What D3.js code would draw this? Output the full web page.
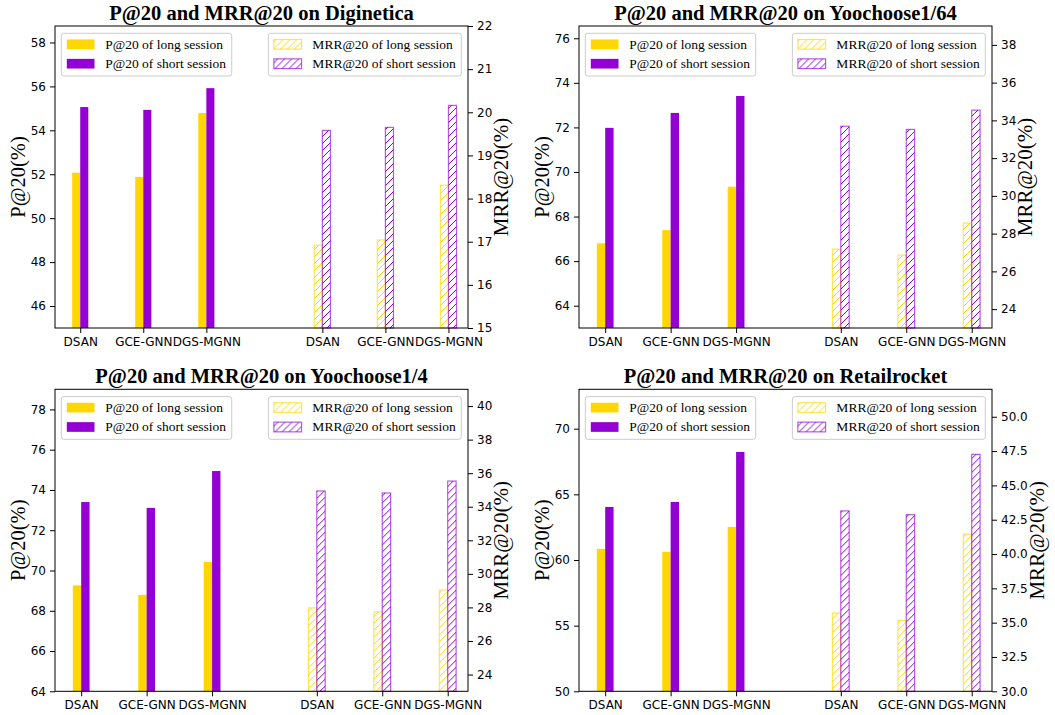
<!DOCTYPE html>
<html>
<head>
<meta charset="utf-8">
<script src="https://cdn.jsdelivr.net/npm/d3@7"></script>
<style>
  body { margin: 0; background: #fff; }
  svg { display: block; }
  .tick text { font-family: "DejaVu Sans", sans-serif; font-size: 12px; fill: #000; }
  .tick line, .domain { stroke: #000; }
</style>
</head>
<body>
<div id="chart"></div>
<script>
// --- data
const methods = ['DSAN', 'GCE-GNN', 'DGS-MGNN'];
const datasets = ['Diginetica', 'Yoochoose1/64', 'Yoochoose1/4', 'Retailrocket'];

const pLong   = [[52.07, 51.88, 54.79], [66.80, 67.39, 69.34], [69.26, 68.79, 70.43], [60.85, 60.62, 62.52]];
const pShort  = [[55.06, 54.93, 55.92], [71.98, 72.65, 73.41], [73.40, 73.11, 74.94], [64.04, 64.42, 68.23]];
const mrrLong  = [[16.92, 17.04, 18.31], [27.18, 26.86, 28.56], [27.97, 27.73, 29.04], [35.70, 35.16, 41.44]];
const mrrShort = [[19.58, 19.65, 20.16], [33.69, 33.52, 34.54], [34.94, 34.82, 35.53], [43.14, 42.87, 47.26]];

const pDomains   = [[45, 58.75], [63, 76.55], [64, 79], [50, 73]];
const mrrDomains = [[15, 22], [23, 39], [23, 41], [30, 52]];
const pTicks   = [[46, 48, 50, 52, 54, 56, 58], [64, 66, 68, 70, 72, 74, 76], [64, 66, 68, 70, 72, 74, 76, 78], [50, 55, 60, 65, 70]];
const mrrTicks = [[15, 16, 17, 18, 19, 20, 21, 22], [24, 26, 28, 30, 32, 34, 36, 38], [24, 26, 28, 30, 32, 34, 36, 38, 40],
                  [30, 32.5, 35, 37.5, 40, 42.5, 45, 47.5, 50]];
const mrrFormats = ['d', 'd', 'd', '.1f'];
// x position where the MRR group starts (the P group sits at 0,1,2)
const mrrGroupStart = [3.84, 3.6, 3.6, 3.6];

const legendP = ['P@20 of long session', 'P@20 of short session'];
const legendMRR = ['MRR@20 of long session', 'MRR@20 of short session'];

// --- layout
const W = 1055, H = 715;
const gold = '#FFD700', violet = '#9400D3';
const panelX = [55, 579], panelY = [26, 389.3];
const pw = 413, ph = 302;
const barW = 0.128;
const serif = '"Liberation Serif", "Times New Roman", serif';

const svg = d3.select('#chart').append('svg')
    .attr('width', W).attr('height', H);

// hatch patterns
const defs = svg.append('defs');
[['hatch-gold', gold], ['hatch-violet', violet]].forEach(([id, c]) => {
    const p = defs.append('pattern')
        .attr('id', id)
        .attr('patternUnits', 'userSpaceOnUse')
        .attr('width', 7).attr('height', 7);
    p.append('path')
        .attr('d', 'M0,7 L7,0 M-1,1 L1,-1 M6,8 L8,6')
        .attr('stroke', c).attr('stroke-width', 1);
});

datasets.forEach((name, i) => {
    const ox = panelX[i % 2], oy = panelY[Math.floor(i / 2)];
    const g = svg.append('g').attr('transform', `translate(${ox},${oy})`);
    const gs = mrrGroupStart[i];

    const positions = [0, 1, 2, gs, gs + 1, gs + 2];
    const x = d3.scaleLinear().domain([-0.4, gs + 2 + 0.31]).range([0, pw]);
    const yP = d3.scaleLinear().domain(pDomains[i]).range([ph, 0]);
    const yM = d3.scaleLinear().domain(mrrDomains[i]).range([ph, 0]);

    // --- P@20 bars (solid)
    const pBars = g.append('g');
    [[pLong[i], gold, -barW], [pShort[i], violet, 0]].forEach(([vals, c, off]) => {
        pBars.selectAll(null)
            .data(vals)
            .enter().append('rect')
            .attr('x', (d, k) => x(positions[k] + off))
            .attr('width', x(barW) - x(0))
            .attr('y', d => yP(d))
            .attr('height', d => ph - yP(d))
            .attr('fill', c);
    });

    // --- MRR@20 bars (hatched)
    const mBars = g.append('g');
    [[mrrLong[i], gold, 'hatch-gold', -barW], [mrrShort[i], violet, 'hatch-violet', 0]].forEach(([vals, c, pat, off]) => {
        const sel = mBars.selectAll(null)
            .data(vals)
            .enter().append('g');
        sel.append('rect')
            .attr('x', (d, k) => x(positions[k + 3] + off))
            .attr('width', x(barW) - x(0))
            .attr('y', d => yM(d))
            .attr('height', d => ph - yM(d))
            .attr('fill', `url(#${pat})`)
            .attr('stroke', c).attr('stroke-opacity', 0.65).attr('stroke-width', 1.2);
    });

    // --- axes
    const gx = g.append('g').attr('transform', `translate(0,${ph})`)
        .call(d3.axisBottom(x).tickValues(positions)
            .tickFormat((d, k) => methods[k % 3]).tickSize(5).tickPadding(4).tickSizeOuter(0));
    const gyl = g.append('g')
        .call(d3.axisLeft(yP).tickValues(pTicks[i]).tickFormat(d3.format('d')).tickSize(5).tickPadding(4).tickSizeOuter(0));
    const gyr = g.append('g').attr('transform', `translate(${pw},0)`)
        .call(d3.axisRight(yM).tickValues(mrrTicks[i]).tickFormat(d3.format(mrrFormats[i])).tickSize(5).tickPadding(4).tickSizeOuter(0));
    g.selectAll('.domain').remove();

    g.append('rect')
        .attr('width', pw).attr('height', ph)
        .attr('fill', 'none').attr('stroke', '#000').attr('stroke-width', 1);

    // --- titles and labels
    g.append('text')
        .attr('x', pw / 2).attr('y', -6.5)
        .attr('text-anchor', 'middle')
        .style('font-family', serif).style('font-weight', 'bold').style('font-size', '20.5px')
        .text(`P@20 and MRR@20 on ${name}`);

    const lw = gyl.node().getBBox().width;
    g.append('text')
        .attr('transform', `translate(${-lw - 13},${ph / 2}) rotate(-90)`)
        .attr('text-anchor', 'middle').attr('dominant-baseline', 'central')
        .style('font-family', serif).style('font-size', '20.5px')
        .text('P@20(%)');

    const rw = gyr.node().getBBox().width;
    g.append('text')
        .attr('transform', `translate(${pw + rw + 9},${ph / 2}) rotate(-90)`)
        .attr('text-anchor', 'middle').attr('dominant-baseline', 'central')
        .style('font-family', serif).style('font-size', '21px')
        .text('MRR@20(%)');

    // --- legends
    drawLegend(g, 6.3, 7.3, legendP, [gold, violet], null, 'left');
    drawLegend(g, pw - 6.7, 7.3, legendMRR, [gold, violet], ['hatch-gold', 'hatch-violet'], 'right');
});

function drawLegend(g, ax, ay, labels, colors, patterns, align) {
    const lg = g.append('g');
    const frame = lg.append('rect')
        .attr('rx', 2.5)
        .attr('fill', '#fff').attr('fill-opacity', 0.8)
        .attr('stroke', '#cccccc').attr('stroke-width', 1);
    const texts = labels.map((t, k) => lg.append('text')
        .attr('x', 44).attr('y', 11 + k * 19.4)
        .attr('dominant-baseline', 'central')
        .style('font-family', serif).style('font-size', '13.5px')
        .text(t));
    labels.forEach((t, k) => {
        const r = lg.append('rect')
            .attr('x', 5.5).attr('y', 11 + k * 19.4 - 4.85)
            .attr('width', 27.7).attr('height', 9.7);
        if (patterns) {
            r.attr('fill', `url(#${patterns[k]})`)
                .attr('stroke', colors[k]).attr('stroke-opacity', 0.65).attr('stroke-width', 1.2);
        } else {
            r.attr('fill', colors[k]);
        }
    });
    const tw = d3.max(texts, t => t.node().getComputedTextLength());
    const bw = 44 + tw + 5.6, bh = 42.7;
    frame.attr('width', bw).attr('height', bh);
    const lx = align === 'left' ? ax : ax - bw;
    lg.attr('transform', `translate(${lx},${ay})`);
}
</script>
</body>
</html>
